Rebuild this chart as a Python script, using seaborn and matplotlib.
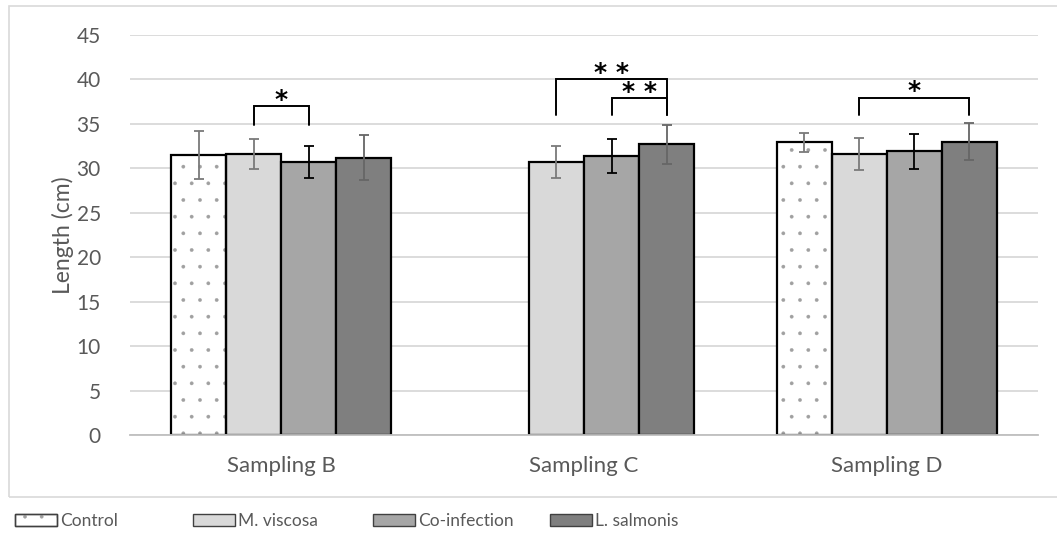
import numpy as np
import pandas as pd
import seaborn as sns
import matplotlib.pyplot as plt
from matplotlib.patches import Rectangle, Patch

# ---- data -------------------------------------------------------------
samplings = ["Sampling B", "Sampling C", "Sampling D"]
groups = ["Control", "M. viscosa", "Co-infection", "L. salmonis"]

# mean length (cm); Control was not sampled at C
control_mean = [31.5, np.nan, 32.9]
mviscosa_mean = [31.6, 30.7, 31.6]
coinf_mean = [30.7, 31.4, 31.9]
lsalmonis_mean = [31.2, 32.7, 33.0]

# standard deviations
control_sd = [2.7, np.nan, 1.1]
mviscosa_sd = [1.65, 1.75, 1.8]
coinf_sd = [1.75, 1.9, 2.0]
lsalmonis_sd = [2.55, 2.2, 2.05]

# significance brackets: (sampling, group 1, group 2, leg bottom, top, label)
sig_sampling = ["Sampling B", "Sampling C", "Sampling C", "Sampling D"]
sig_group1 = ["M. viscosa", "M. viscosa", "Co-infection", "M. viscosa"]
sig_group2 = ["Co-infection", "L. salmonis", "L. salmonis", "L. salmonis"]
sig_low = [34.9, 36.0, 36.0, 36.0]
sig_high = [37.0, 40.0, 37.9, 37.95]
sig_label = ["*", "* *", "* *", "*"]

# ---- tidy table -------------------------------------------------------
rows = []
for g, means, sds in zip(groups,
                         [control_mean, mviscosa_mean, coinf_mean, lsalmonis_mean],
                         [control_sd, mviscosa_sd, coinf_sd, lsalmonis_sd]):
    for s, m, sd in zip(samplings, means, sds):
        if not np.isnan(m):
            rows.append({"sampling": s, "group": g, "length": m, "sd": sd})
df = pd.DataFrame(rows)
sd_lookup = {(r.sampling, r.group): r.sd for r in df.itertuples()}
mean_lookup = {(r.sampling, r.group): r.length for r in df.itertuples()}

# ---- style ------------------------------------------------------------
sns.set_theme(style="white")
plt.rcParams["font.family"] = ["Lato", "DejaVu Sans"]
plt.rcParams["hatch.linewidth"] = 0.25

fills = {"Control": "#ffffff", "M. viscosa": "#d9d9d9",
         "Co-infection": "#a6a6a6", "L. salmonis": "#7f7f7f"}
err_colors = {"Control": "#7a7a7a", "M. viscosa": "#7a7a7a",
              "Co-infection": "#000000", "L. salmonis": "#666666"}
dot_grey = "#a0a0a0"
text_grey = "#595959"

fig = plt.figure(figsize=(10.57, 5.44), dpi=100)
ax = fig.add_axes([130 / 1057, 1 - 435.3 / 544, 908 / 1057, 400.5 / 544])

# outer chart frame
fig.patches.append(Rectangle((9 / 1057, 1 - 497 / 544), 1.1, (497 - 6) / 544,
                             transform=fig.transFigure, fill=False,
                             edgecolor="#d9d9d9", linewidth=1.2, zorder=0))

sns.barplot(data=df, x="sampling", y="length", hue="group",
            order=samplings, hue_order=groups, palette=fills,
            width=0.727, gap=0, saturation=1, errorbar=None,
            edgecolor="black", linewidth=1.6, legend=False, ax=ax)

# bar centres from the drawn patches, plus error bars and dotted Control fill
centers = {}
for g, cont in zip(groups, ax.containers):
    for p in cont.patches:
        cx = p.get_x() + p.get_width() / 2
        s = samplings[int(round(cx))]
        centers[(s, g)] = cx
        if g == "Control":
            # the hatch takes the edge colour, so dot in grey and re-draw
            # the black outline on top
            p.set_hatch(".")
            p.set_edgecolor(dot_grey)
            p.set_linewidth(0)
            ax.add_patch(Rectangle((p.get_x(), p.get_y()), p.get_width(),
                                   p.get_height(), fill=False,
                                   edgecolor="black", linewidth=1.6,
                                   zorder=p.get_zorder() + 0.1))
        ax.errorbar(cx, mean_lookup[(s, g)], yerr=sd_lookup[(s, g)],
                    fmt="none", ecolor=err_colors[g], elinewidth=1.3,
                    capsize=3.8, capthick=1.3, zorder=5)

# significance brackets
for s, g1, g2, lo, hi, lab in zip(sig_sampling, sig_group1, sig_group2,
                                   sig_low, sig_high, sig_label):
    x1, x2 = centers[(s, g1)], centers[(s, g2)]
    ax.plot([x1, x1, x2, x2], [lo, hi, hi, lo], color="black",
            linewidth=1.4, solid_joinstyle="miter", zorder=6, clip_on=False)
    ax.text((x1 + x2) / 2, hi - 0.1, lab, ha="center", va="baseline",
            fontsize=18, fontweight="bold", family="DejaVu Sans",
            color="black")

# axes styling
ax.set_ylim(0, 45)
ax.set_xlim(-0.5, 2.5)
ax.set_yticks(np.arange(0, 46, 5))
ax.yaxis.grid(True, color="#d9d9d9", linewidth=1.3)
ax.set_axisbelow(True)
for side in ["top", "right", "left"]:
    ax.spines[side].set_visible(False)
ax.spines["bottom"].set_color("#bfbfbf")
ax.spines["bottom"].set_linewidth(1.3)
ax.tick_params(axis="both", length=0, colors=text_grey)
ax.tick_params(axis="y", pad=21, labelsize=15)
ax.tick_params(axis="x", pad=15, labelsize=16)
ax.set_xlabel("")
ax.set_ylabel("Length (cm)", fontsize=16.5, color=text_grey, labelpad=2)

# legend: evenly spaced entries under the frame
legend_x = [15, 193, 373, 550]
for g, lx in zip(groups, legend_x):
    outline = Patch(facecolor=fills[g], edgecolor="#404040", linewidth=1.0)
    if g == "Control":
        dots = Patch(facecolor="none", edgecolor=dot_grey, linewidth=0,
                     hatch=".")
        handle = (outline, dots,
                  Patch(facecolor="none", edgecolor="#404040", linewidth=1.0))
    else:
        handle = outline
    fig.legend([handle], [g], loc="center left",
               bbox_to_anchor=(lx / 1057, 1 - 521 / 544),
               frameon=False, fontsize=12.5, handlelength=2.4,
               handleheight=0.65, handletextpad=0.2, borderpad=0,
               borderaxespad=0, labelcolor=text_grey)

fig.savefig("out.png", dpi=100)
